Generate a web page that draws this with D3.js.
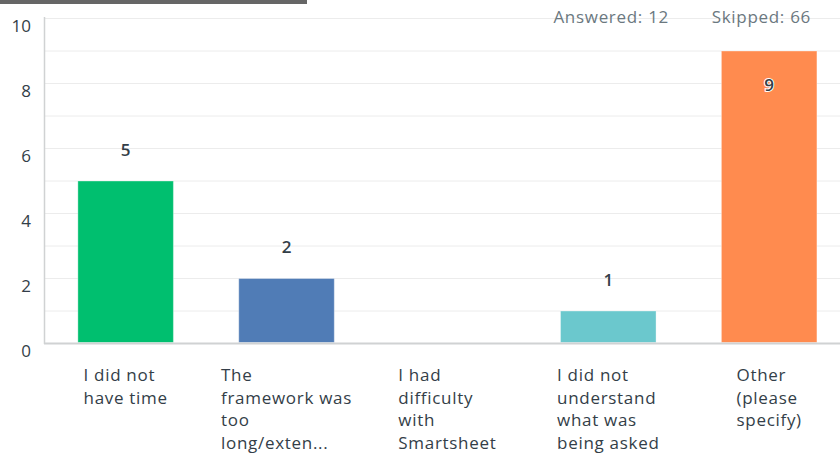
<!DOCTYPE html>
<html>
<head>
  <script type="text/javascript" src="https://d3js.org/d3.v7.min.js"></script>
  <style>
      body { margin: 0; background: #fff; }
      svg { display: block; font-family: "Open Sans", "Noto Sans", sans-serif; }
  </style>
</head>
<body>
<div id="chart"></div>
<script>
    // survey answers
    const categories = [
        ["I did not", "have time"],
        ["The", "framework was", "too", "long/exten..."],
        ["I had", "difficulty", "with", "Smartsheet"],
        ["I did not", "understand", "what was", "being asked"],
        ["Other", "(please", "specify)"]
    ];
    const counts = [5, 2, 0, 1, 9];
    const colors = ["#00bf6f", "#507cb6", "#6bc8cd", "#6bc8cd", "#ff8b4f"];
    const yTicks = [0, 2, 4, 6, 8, 10];
    const answered = 12;
    const skipped = 66;

    const width = 840, height = 455;
    const left = 45, baseY = 343, topY = 18;

    const svg = d3.select('#chart').append('svg')
        .attr('width', width)
        .attr('height', height);

    // grey strip at the very top
    svg.append('rect')
        .attr('x', 0).attr('y', 0)
        .attr('width', 307).attr('height', 4)
        .attr('fill', '#666');

    const xScale = d3.scaleBand()
        .domain(d3.range(counts.length))
        .range([45.2, 849.6])
        .paddingInner(0.4)
        .paddingOuter(0.2);

    const yScale = d3.scaleLinear()
        .domain([0, 10])
        .range([baseY, topY]);

    // gridlines, one per unit
    svg.append('g')
        .selectAll('line')
        .data(d3.range(1, 11))
        .join('line')
        .attr('x1', left).attr('x2', width)
        .attr('y1', d => yScale(d) + 0.5).attr('y2', d => yScale(d) + 0.5)
        .attr('stroke', '#ececec');

    // y labels (sit a bit below their gridline)
    svg.append('g')
        .selectAll('text')
        .data(yTicks)
        .join('text')
        .attr('x', 31)
        .attr('y', d => yScale(d) + 14)
        .attr('text-anchor', 'end')
        .attr('font-size', 17)
        .attr('fill', '#333e48')
        .text(d => d);

    // bars
    svg.append('g')
        .selectAll('rect')
        .data(counts)
        .join('rect')
        .attr('x', (d, i) => xScale(i) + 0.5)
        .attr('y', d => yScale(d) + 0.5)
        .attr('width', xScale.bandwidth() - 1)
        .attr('height', d => Math.max(0, baseY - yScale(d) - 1))
        .attr('fill', (d, i) => colors[i])
        .attr('stroke', 'rgba(255,255,255,0.35)')
        .attr('display', d => d > 0 ? null : 'none');

    // axes lines
    svg.append('line')
        .attr('x1', left - 0.5).attr('x2', left - 0.5)
        .attr('y1', topY - 1).attr('y2', baseY + 1)
        .attr('stroke', '#d0d2d3').attr('stroke-width', 1.5);
    svg.append('line')
        .attr('x1', left - 1).attr('x2', width)
        .attr('y1', baseY + 0.5).attr('y2', baseY + 0.5)
        .attr('stroke', '#d0d2d3').attr('stroke-width', 2);

    // value labels, inside the bar when it reaches the top
    svg.append('g')
        .selectAll('text')
        .data(counts.map((v, i) => ({v, i})).filter(d => d.v > 0))
        .join('text')
        .attr('x', d => xScale(d.i) + xScale.bandwidth() / 2)
        .attr('y', d => d.v >= 9 ? yScale(d.v) + 40 : yScale(d.v) - 25)
        .attr('text-anchor', 'middle')
        .attr('font-size', 17)
        .attr('font-weight', 600)
        .attr('fill', '#333e48')
        .attr('stroke', d => d.v >= 9 ? '#fff' : 'none')
        .attr('stroke-width', 2)
        .attr('paint-order', 'stroke')
        .text(d => d.v);

    // category labels: left aligned block, centred under its bar
    const lab = svg.append('g')
        .selectAll('text')
        .data(categories)
        .join('text')
        .attr('y', 381)
        .attr('font-size', 17)
        .attr('letter-spacing', 0.7)
        .attr('fill', '#333e48');
    lab.selectAll('tspan')
        .data(d => d)
        .join('tspan')
        .attr('dy', (d, j) => j === 0 ? 0 : 22.7)
        .text(d => d);
    lab.each(function(d, i) {
        const spans = d3.select(this).selectAll('tspan');
        let w = 0;
        spans.each(function() { w = Math.max(w, this.getComputedTextLength()); });
        const x0 = xScale(i) + xScale.bandwidth() / 2 - w / 2;
        spans.attr('x', x0);
    });

    // answered / skipped
    svg.append('text')
        .attr('x', 669).attr('y', 23)
        .attr('text-anchor', 'end')
        .attr('font-size', 17)
        .attr('letter-spacing', 0.7)
        .attr('fill', '#6b787f')
        .text('Answered: ' + answered);
    svg.append('text')
        .attr('x', 811).attr('y', 23)
        .attr('text-anchor', 'end')
        .attr('font-size', 17)
        .attr('letter-spacing', 0.7)
        .attr('fill', '#6b787f')
        .text('Skipped: ' + skipped);
</script>
</body>
</html>
